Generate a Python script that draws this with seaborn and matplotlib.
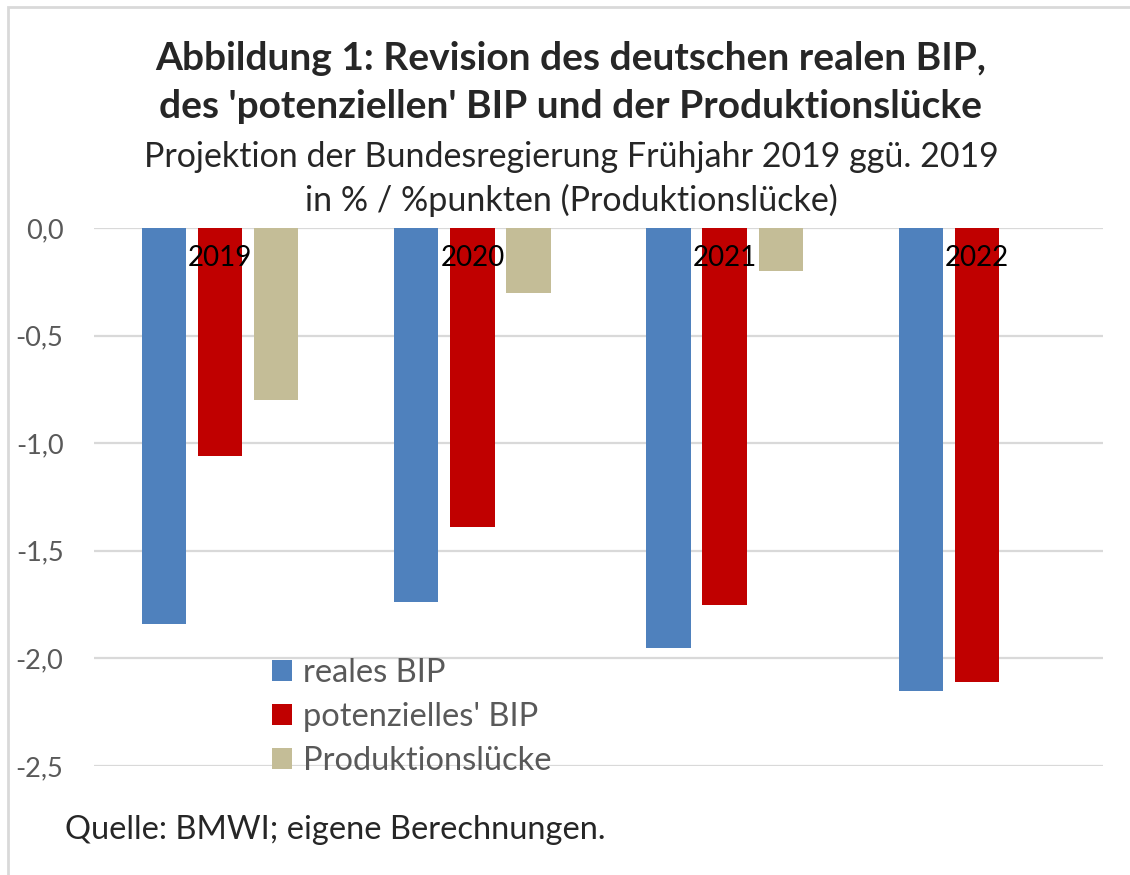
import pandas as pd
import matplotlib.pyplot as plt
import seaborn as sns
from matplotlib.patches import Rectangle, Patch

# Data
years = ["2019", "2020", "2021", "2022"]
reales_bip = [-1.84, -1.74, -1.95, -2.15]
potenzielles_bip = [-1.06, -1.39, -1.75, -2.11]
produktionsluecke = [-0.80, -0.30, -0.20, 0.0]
series = ["reales BIP", "potenzielles' BIP", "Produktionslücke"]
colors = ["#4F81BD", "#C00000", "#C4BD97"]
yticks = [0.0, -0.5, -1.0, -1.5, -2.0, -2.5]

df = pd.DataFrame({
    "Jahr": years * 3,
    "Serie": [series[0]] * 4 + [series[1]] * 4 + [series[2]] * 4,
    "Wert": reales_bip + potenzielles_bip + produktionsluecke,
})

sns.set_theme(style="white")
plt.rcParams["font.family"] = ["Lato", "DejaVu Sans"]

fig = plt.figure(figsize=(11.3, 8.75), dpi=100)
ax = fig.add_axes([94 / 1130, 1 - 766 / 875, 1009 / 1130, 538 / 875])

sns.barplot(data=df, x="Jahr", y="Wert", hue="Serie", palette=colors,
            width=0.667, gap=0.21, saturation=1, linewidth=0, ax=ax,
            legend=False)

ax.set_ylim(-2.5, 0)
ax.set_xlim(-0.5, 3.5)
ax.set_yticks(yticks)
ax.set_yticklabels([f"{v:.1f}".replace(".", ",") for v in yticks])
ax.tick_params(axis="y", length=0, labelsize=19.5, labelcolor="#595959", pad=22)
ax.set_xticks([])
ax.set_xlabel("")
ax.set_ylabel("")
ax.yaxis.grid(True, color="#d9d9d9", lw=1.6)
ax.set_axisbelow(True)
for s in ax.spines.values():
    s.set_visible(False)

# category labels inside the plot near the zero line
for i, yr in enumerate(years):
    ax.text(i, -0.14, yr, ha="center", va="center", fontsize=20,
            color="black", zorder=5)

handles = [Patch(facecolor=c, edgecolor="none") for c in colors]
leg = fig.legend(handles, series, loc="upper left",
                 bbox_to_anchor=(272 / 1130, 1 - 658 / 875), frameon=False,
                 fontsize=23.5, handlelength=0.6, handleheight=0.6,
                 handletextpad=0.35, labelspacing=0.43, borderpad=0,
                 borderaxespad=0)
for t in leg.get_texts():
    t.set_color("#595959")

fig.text(0.505, 1 - 58 / 875, "Abbildung 1: Revision des deutschen realen BIP,",
         ha="center", va="center", fontsize=28, fontweight="bold")
fig.text(0.505, 1 - 106 / 875, "des 'potenziellen' BIP und der Produktionslücke",
         ha="center", va="center", fontsize=28, fontweight="bold")
fig.text(0.506, 1 - 157 / 875, "Projektion der Bundesregierung Frühjahr 2019 ggü. 2019",
         ha="center", va="center", fontsize=24.5)
fig.text(0.506, 1 - 200 / 875, "in % / %punkten (Produktionslücke)",
         ha="center", va="center", fontsize=24.5)
fig.text(65 / 1130, 1 - 830 / 875, "Quelle: BMWI; eigene Berechnungen.",
         ha="left", va="center", fontsize=23.5)

# chart frame (light gray, left and top edges visible)
fig.add_artist(Rectangle((8 / 1130, -0.1), 1.2, 1.1 - 7 / 875,
                         transform=fig.transFigure, fill=False,
                         edgecolor="#d9d9d9", lw=2))

fig.savefig("out.png", dpi=100)
